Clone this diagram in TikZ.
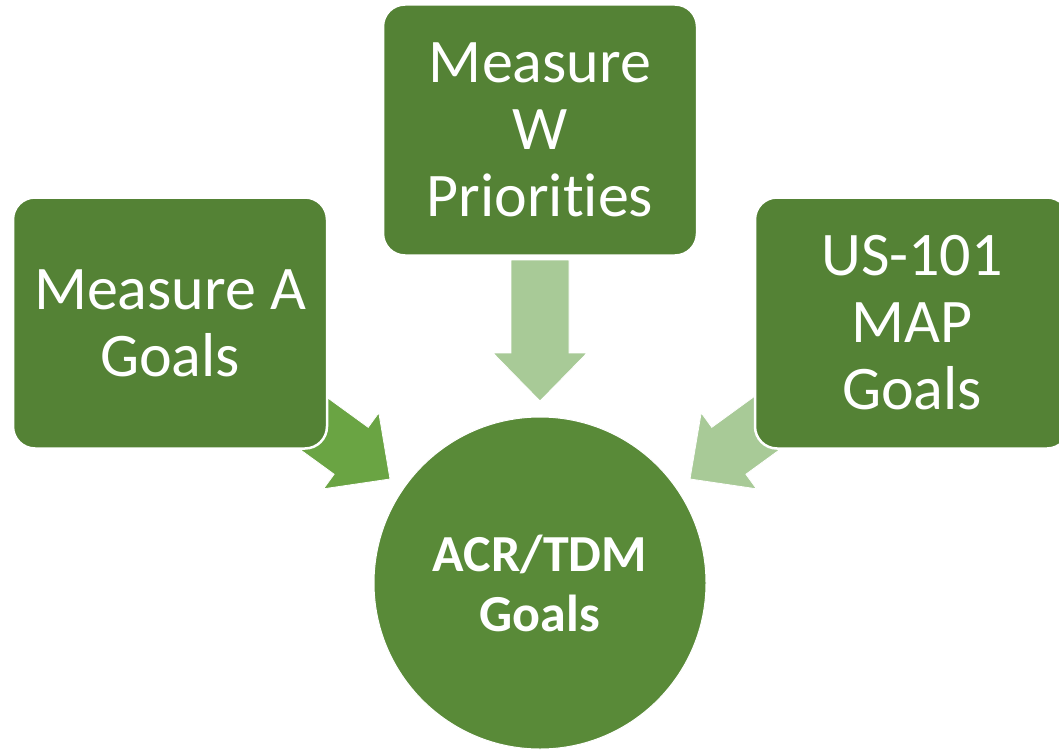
\documentclass[tikz,border=0pt]{standalone}
\usepackage{fontspec}
\setmainfont[Ligatures=NoCommon]{Carlito}
\definecolor{boxgreen}{HTML}{548235}
\definecolor{circgreen}{HTML}{598A38}
\definecolor{midgreen}{HTML}{6AA443}
\definecolor{lightgreen}{HTML}{A8CA97}
\tikzset{
  goalbox/.style={rounded corners=22pt, fill=boxgreen, draw=white, line width=2.5pt,
    minimum width=314pt, minimum height=251pt, align=center, text=white,
    font=\fontsize{62}{67}\selectfont, inner sep=0pt},
  goalcircle/.style={circle, fill=circgreen, draw=white, line width=1pt,
    minimum size=332pt, align=center, text=white,
    font=\bfseries\fontsize{52}{60}\selectfont, inner sep=0pt},
  blockarrow/.style={draw=white, line width=0.8pt, line join=miter}
}
\newcommand\greenblockarrow[3]{%
  \begin{scope}[shift={#1}, rotate=#2]
    \fill[#3, blockarrow] (0,0) -- (-48,47) -- (-48,29) -- (-141,29) -- (-141,-29)
      -- (-48,-29) -- (-48,-47) -- cycle;
  \end{scope}}
\begin{document}
\begin{tikzpicture}[x=1pt, y=-1pt]
  \useasboundingbox (0,0) rectangle (1059,749);
  \clip (0,0) rectangle (1059,749);
  % block arrows (behind the boxes)
  \greenblockarrow{(540,401)}{-90}{lightgreen}
  \greenblockarrow{(390,479)}{-36}{midgreen}
  \greenblockarrow{(690,479)}{-144}{lightgreen}
  % boxes
  \node[goalbox] (measA) at (170,323) {Measure A\\Goals};
  \node[goalbox] (measW) at (540,130) {Measure\\W\\Priorities};
  \node[goalbox] (us101) at (912,323) {US-101\\MAP\\Goals};
  % circle
  \node[goalcircle] (acr) at (540,583) {\raisebox{3pt}{\parbox{300pt}{\centering ACR/TDM\\Goals}}};
\end{tikzpicture}
\end{document}
